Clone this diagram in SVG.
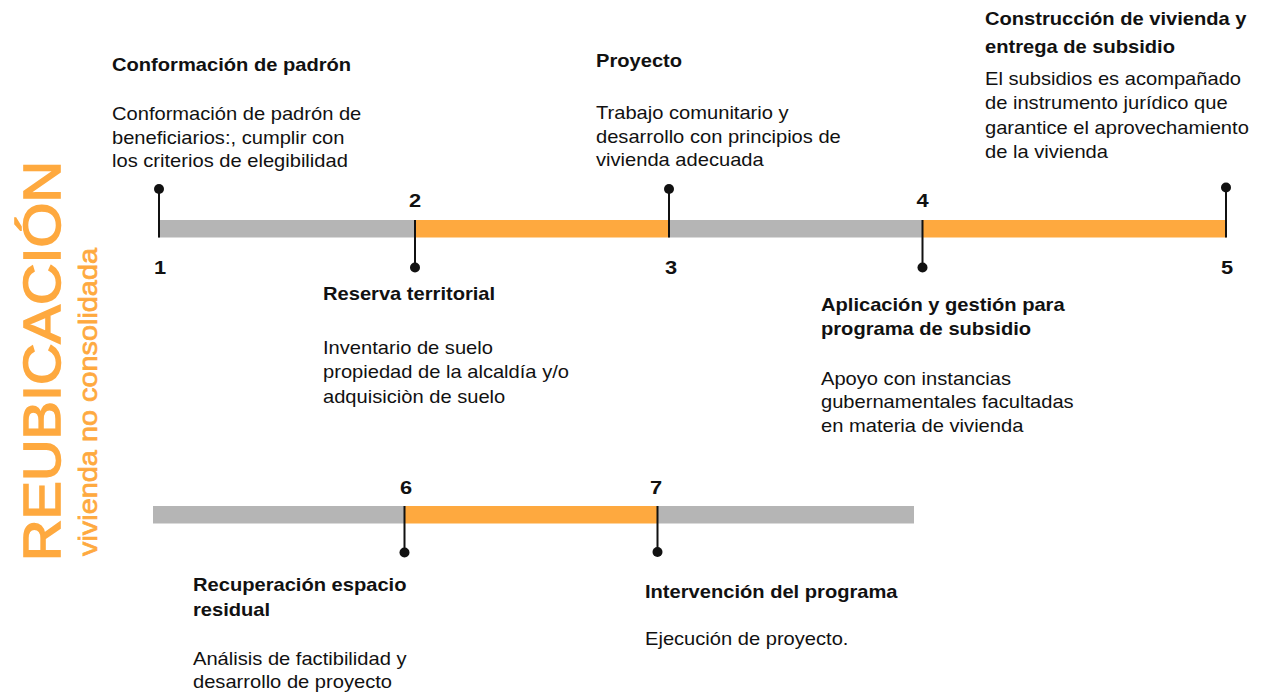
<svg xmlns="http://www.w3.org/2000/svg" width="1262" height="696" viewBox="0 0 1262 696">
<defs>
<style>
.t{font-family:"Liberation Sans",Arial,Helvetica,sans-serif;font-size:17.5px;fill:#111}
.h{font-weight:bold}
.n{font-family:"Liberation Sans",Arial,Helvetica,sans-serif;font-size:19px;font-weight:bold;fill:#111;text-anchor:middle}
.stem{stroke:#111;stroke-width:2}
.dot{fill:#111}
.gray{fill:#b5b5b5}
.orange{fill:#fea93f}
.side{font-family:"Liberation Sans",Arial,Helvetica,sans-serif;fill:#fea93f;stroke:#fea93f}
</style>
</defs>
<rect width="1262" height="696" fill="#fff"/>
<g id="side-title">
<text class="side" transform="translate(60,561) rotate(-90)" font-size="52" stroke-width="1.6" textLength="400" lengthAdjust="spacingAndGlyphs">REUBICACIÓN</text>
<text class="side" transform="translate(97,556) rotate(-90)" font-size="26" stroke-width="0.7" textLength="308" lengthAdjust="spacingAndGlyphs">vivienda no consolidada</text>
</g>
<g id="connectors">
<rect class="gray" x="158" y="220" width="257" height="17.5"/>
<rect class="orange" x="415" y="220" width="254" height="17.5"/>
<rect class="gray" x="669" y="220" width="253.5" height="17.5"/>
<rect class="orange" x="922.5" y="220" width="304" height="17.5"/>
<rect class="gray" x="153" y="506" width="251.5" height="17.5"/>
<rect class="orange" x="404.5" y="506" width="253" height="17.5"/>
<rect class="gray" x="657.5" y="506" width="256.5" height="17.5"/>
</g>
<g id="node1">
<line class="stem" x1="159" y1="189" x2="159" y2="237.5"/>
<circle class="dot" cx="159" cy="189" r="5"/>
<g transform="translate(160,274) scale(1.15,1)"><text class="n">1</text></g>
<g transform="translate(112,0) scale(1.15,1)">
<text class="t h" y="71.5">Conformación de padrón</text>
<text class="t" y="120.5">Conformación de padrón de</text>
<text class="t" y="144">beneficiarios:, cumplir con</text>
<text class="t" y="167.5">los criterios de elegibilidad</text>
</g>
</g>
<g id="node2">
<line class="stem" x1="415" y1="220" x2="415" y2="267.5"/>
<circle class="dot" cx="415" cy="267.5" r="5"/>
<g transform="translate(415,206.5) scale(1.15,1)"><text class="n">2</text></g>
<g transform="translate(323,0) scale(1.15,1)">
<text class="t h" y="300">Reserva territorial</text>
<text class="t" y="354">Inventario de suelo</text>
<text class="t" y="378.5">propiedad de la alcaldía y/o</text>
<text class="t" y="403">adquisiciòn de suelo</text>
</g>
</g>
<g id="node3">
<line class="stem" x1="669" y1="189" x2="669" y2="237.5"/>
<circle class="dot" cx="669" cy="189" r="5"/>
<g transform="translate(671,274) scale(1.15,1)"><text class="n">3</text></g>
<g transform="translate(596,0) scale(1.15,1)">
<text class="t h" y="67.5">Proyecto</text>
<text class="t" y="119.5">Trabajo comunitario y</text>
<text class="t" y="143">desarrollo con principios de</text>
<text class="t" y="166.5">vivienda adecuada</text>
</g>
</g>
<g id="node4">
<line class="stem" x1="922.5" y1="220" x2="922.5" y2="267.5"/>
<circle class="dot" cx="922.5" cy="267.5" r="5"/>
<g transform="translate(922.5,206.5) scale(1.15,1)"><text class="n">4</text></g>
<g transform="translate(821,0) scale(1.15,1)">
<text class="t h" y="311">Aplicación y gestión para</text>
<text class="t h" y="335">programa de subsidio</text>
<text class="t" y="385">Apoyo con instancias</text>
<text class="t" y="408.5">gubernamentales facultadas</text>
<text class="t" y="432">en materia de vivienda</text>
</g>
</g>
<g id="node5">
<line class="stem" x1="1226" y1="187.5" x2="1226" y2="237.5"/>
<circle class="dot" cx="1226" cy="187.5" r="5"/>
<g transform="translate(1227,274) scale(1.15,1)"><text class="n">5</text></g>
<g transform="translate(985,0) scale(1.15,1)">
<text class="t h" y="25">Construcción de vivienda y</text>
<text class="t h" y="53">entrega de subsidio</text>
<text class="t" y="85">El subsidios es acompañado</text>
<text class="t" y="109.5">de instrumento jurídico que</text>
<text class="t" y="134">garantice el aprovechamiento</text>
<text class="t" y="158.5">de la vivienda</text>
</g>
</g>
<g id="node6">
<line class="stem" x1="404.5" y1="506" x2="404.5" y2="552.5"/>
<circle class="dot" cx="404.5" cy="552.5" r="5"/>
<g transform="translate(406,493.5) scale(1.15,1)"><text class="n">6</text></g>
<g transform="translate(193,0) scale(1.15,1)">
<text class="t h" y="591.5">Recuperación espacio</text>
<text class="t h" y="616">residual</text>
<text class="t" y="665">Análisis de factibilidad y</text>
<text class="t" y="688.5">desarrollo de proyecto</text>
</g>
</g>
<g id="node7">
<line class="stem" x1="657.5" y1="506" x2="657.5" y2="552"/>
<circle class="dot" cx="657.5" cy="552" r="5"/>
<g transform="translate(656,493.5) scale(1.15,1)"><text class="n">7</text></g>
<g transform="translate(645,0) scale(1.15,1)">
<text class="t h" y="598">Intervención del programa</text>
<text class="t" y="645">Ejecución de proyecto.</text>
</g>
</g>
</svg>
